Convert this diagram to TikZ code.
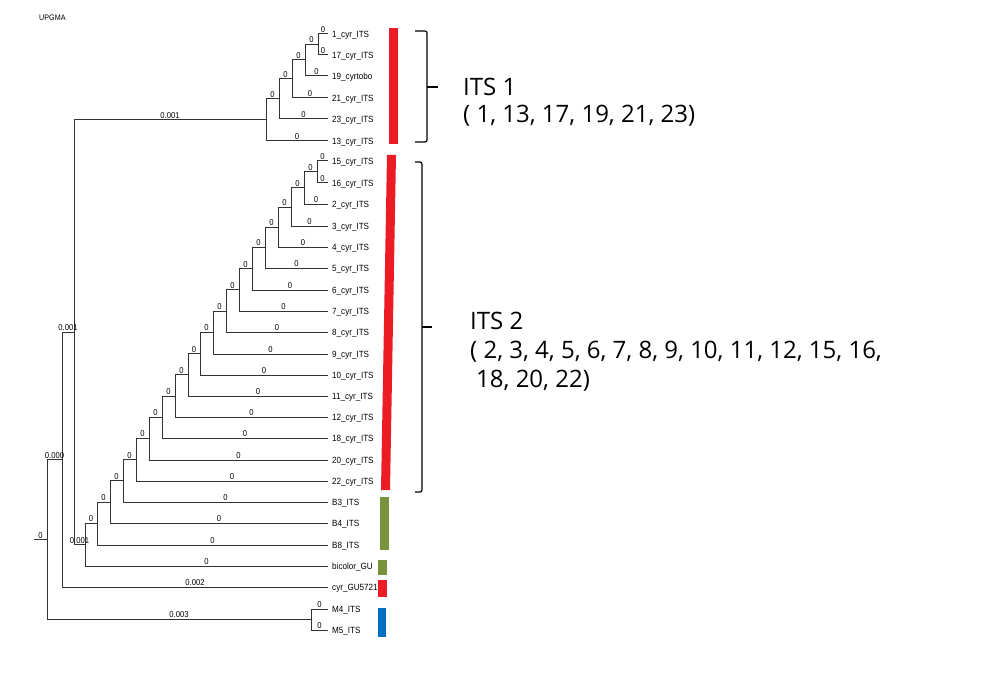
\documentclass[tikz,border=0pt]{standalone}
\usepackage{fontspec}
\newfontfamily\treefont[FakeStretch=0.9]{Liberation Sans}
\newfontfamily\groupfont{Open Sans}
\usetikzlibrary{positioning,calc}
\definecolor{barred}{RGB}{236,28,36}
\definecolor{bargreen}{RGB}{119,147,60}
\definecolor{barblue}{RGB}{0,112,192}
\definecolor{branch}{RGB}{50,50,50}

\begin{document}
\begin{tikzpicture}[
    x=1pt, y=-1pt,
    leaf/.style={anchor=west, inner xsep=4pt, inner ysep=0pt, text height=6.4pt, text depth=0pt, font=\treefont\fontsize{9}{9}\selectfont},
    blen/.style={above, pos=0.75, inner sep=1pt, font=\treefont\fontsize{8.5}{8.5}\selectfont},
    edge/.style={draw=branch, line width=1pt},
    group/.style={anchor=north west, align=left, inner sep=0pt},
    brace/.style={draw=black, line width=1.2pt, rounded corners=2pt}
]
\useasboundingbox (0,0) rectangle (983,682);

\node[anchor=west, inner sep=0pt, font=\treefont\fontsize{8}{8}\selectfont] (title) at (39,18) {UPGMA};

\node[leaf] (l1) at (328,34) {1\_cyr\_ITS};
\node[leaf] (l17) at (328,55) {17\_cyr\_ITS};
\node[leaf] (l19) at (328,76) {19\_cyrtobo};
\node[leaf] (l21) at (328,98) {21\_cyr\_ITS};
\node[leaf] (l23) at (328,119) {23\_cyr\_ITS};
\node[leaf] (l13) at (328,141) {13\_cyr\_ITS};
\node[leaf] (l15) at (328,161) {15\_cyr\_ITS};
\node[leaf] (l16) at (328,183) {16\_cyr\_ITS};
\node[leaf] (l2) at (328,204) {2\_cyr\_ITS};
\node[leaf] (l3) at (328,226) {3\_cyr\_ITS};
\node[leaf] (l4) at (328,247) {4\_cyr\_ITS};
\node[leaf] (l5) at (328,268) {5\_cyr\_ITS};
\node[leaf] (l6) at (328,290) {6\_cyr\_ITS};
\node[leaf] (l7) at (328,311) {7\_cyr\_ITS};
\node[leaf] (l8) at (328,332) {8\_cyr\_ITS};
\node[leaf] (l9) at (328,354) {9\_cyr\_ITS};
\node[leaf] (l10) at (328,375) {10\_cyr\_ITS};
\node[leaf] (l11) at (328,396) {11\_cyr\_ITS};
\node[leaf] (l12) at (328,417) {12\_cyr\_ITS};
\node[leaf] (l18) at (328,438) {18\_cyr\_ITS};
\node[leaf] (l20) at (328,460) {20\_cyr\_ITS};
\node[leaf] (l22) at (328,481) {22\_cyr\_ITS};
\node[leaf] (b3) at (328,502) {B3\_ITS};
\node[leaf] (b4) at (328,523) {B4\_ITS};
\node[leaf] (b8) at (328,545) {B8\_ITS};
\node[leaf] (bic) at (328,566) {bicolor\_GU};
\node[leaf] (cgu) at (328,587) {cyr\_GU5721};
\node[leaf] (m4) at (328,609) {M4\_ITS};
\node[leaf] (m5) at (328,630) {M5\_ITS};

\coordinate (i1) at (318,44.5);
\coordinate (i2) at (305,60);
\coordinate (i3) at (292,79);
\coordinate (i4) at (279,99);
\coordinate (i5) at (266,120);

\coordinate (j1) at (317,172);
\coordinate (j2) at (304,188);
\coordinate (j3) at (291,207);
\coordinate (j4) at (278,227);
\coordinate (j5) at (265,247.5);
\coordinate (j6) at (252,268.8);
\coordinate (j7) at (239,289.9);
\coordinate (j8) at (226,311);
\coordinate (j9) at (213,332.5);
\coordinate (j10) at (200,353.7);
\coordinate (j11) at (188,374.9);
\coordinate (j12) at (175,396);
\coordinate (j13) at (162,417);
\coordinate (j14) at (149,438.5);
\coordinate (j15) at (136,459.7);
\coordinate (j16) at (123,480.9);
\coordinate (j17) at (110,502);
\coordinate (j18) at (97,523.5);
\coordinate (j19) at (85,544.7);

\coordinate (n1) at (74,332.4);
\coordinate (n2) at (62,459.7);
\coordinate (mm) at (311,619.5);
\coordinate (n3) at (47,539.6);
\coordinate (root) at (34,539.6);

\draw[edge] (i1) |- node[blen]{0} (l1.west);
\draw[edge] (i1) |- node[blen]{0} (l17.west);
\draw[edge] (i2) |- node[blen]{0} (i1);
\draw[edge] (i2) |- node[blen]{0} (l19.west);
\draw[edge] (i3) |- node[blen]{0} (i2);
\draw[edge] (i3) |- node[blen]{0} (l21.west);
\draw[edge] (i4) |- node[blen]{0} (i3);
\draw[edge] (i4) |- node[blen]{0} (l23.west);
\draw[edge] (i5) |- node[blen]{0} (i4);
\draw[edge] (i5) |- node[blen]{0} (l13.west);

\draw[edge] (j1) |- node[blen]{0} (l15.west);
\draw[edge] (j1) |- node[blen]{0} (l16.west);
\draw[edge] (j2) |- node[blen]{0} (j1);
\draw[edge] (j2) |- node[blen]{0} (l2.west);
\draw[edge] (j3) |- node[blen]{0} (j2);
\draw[edge] (j3) |- node[blen]{0} (l3.west);
\draw[edge] (j4) |- node[blen]{0} (j3);
\draw[edge] (j4) |- node[blen]{0} (l4.west);
\draw[edge] (j5) |- node[blen]{0} (j4);
\draw[edge] (j5) |- node[blen]{0} (l5.west);
\draw[edge] (j6) |- node[blen]{0} (j5);
\draw[edge] (j6) |- node[blen]{0} (l6.west);
\draw[edge] (j7) |- node[blen]{0} (j6);
\draw[edge] (j7) |- node[blen]{0} (l7.west);
\draw[edge] (j8) |- node[blen]{0} (j7);
\draw[edge] (j8) |- node[blen]{0} (l8.west);
\draw[edge] (j9) |- node[blen]{0} (j8);
\draw[edge] (j9) |- node[blen]{0} (l9.west);
\draw[edge] (j10) |- node[blen]{0} (j9);
\draw[edge] (j10) |- node[blen]{0} (l10.west);
\draw[edge] (j11) |- node[blen]{0} (j10);
\draw[edge] (j11) |- node[blen]{0} (l11.west);
\draw[edge] (j12) |- node[blen]{0} (j11);
\draw[edge] (j12) |- node[blen]{0} (l12.west);
\draw[edge] (j13) |- node[blen]{0} (j12);
\draw[edge] (j13) |- node[blen]{0} (l18.west);
\draw[edge] (j14) |- node[blen]{0} (j13);
\draw[edge] (j14) |- node[blen]{0} (l20.west);
\draw[edge] (j15) |- node[blen]{0} (j14);
\draw[edge] (j15) |- node[blen]{0} (l22.west);
\draw[edge] (j16) |- node[blen]{0} (j15);
\draw[edge] (j16) |- node[blen]{0} (b3.west);
\draw[edge] (j17) |- node[blen]{0} (j16);
\draw[edge] (j17) |- node[blen]{0} (b4.west);
\draw[edge] (j18) |- node[blen]{0} (j17);
\draw[edge] (j18) |- node[blen]{0} (b8.west);
\draw[edge] (j19) |- node[blen]{0} (j18);
\draw[edge] (j19) |- node[blen]{0} (bic.west);

\draw[edge] (n1) |- node[blen]{0.001} (i5);
\draw[edge] (n1) |- node[blen]{0.001} (j19);
\draw[edge] (n2) |- node[blen]{0.001} (n1);
\draw[edge] (n2) |- node[blen]{0.002} (cgu.west);
\draw[edge] (mm) |- node[blen]{0} (m4.west);
\draw[edge] (mm) |- node[blen]{0} (m5.west);
\draw[edge] (n3) |- node[blen]{0.000} (n2);
\draw[edge] (n3) |- node[blen]{0.003} (mm);
\draw[edge] (root) -- node[above, inner sep=1pt, font=\treefont\fontsize{8.5}{8.5}\selectfont]{0} (n3);

\fill[barred] (389,28) rectangle (398,144);
\fill[barred] (387,155) -- (396,155) -- (390,490) -- (381,490) -- cycle;
\fill[bargreen] (380,497) rectangle (389,550);
\fill[bargreen] (378,560) rectangle (387,575);
\fill[barred] (378,580) rectangle (387,597);
\fill[barblue] (378,608) rectangle (386,637);

\draw[brace] (415,31) -- (427,31) -- (427,142) -- (415,142);
\draw[brace] (427,87) -- (438,87);
\draw[brace] (415,162) -- (422,162) -- (422,492) -- (415,492);
\draw[brace] (422,327) -- (432,327);

\node[group, font=\groupfont\fontsize{24}{27}\selectfont] (its1) at (463,78) {ITS 1\\( 1, 13, 17, 19, 21, 23)};
\node[group, font=\groupfont\fontsize{24}{29}\selectfont] (its2) at (470,312) {ITS 2\\( 2, 3, 4, 5, 6, 7, 8, 9, 10, 11, 12, 15, 16,\\\hspace*{6pt}18, 20, 22)};
\end{tikzpicture}
\end{document}
